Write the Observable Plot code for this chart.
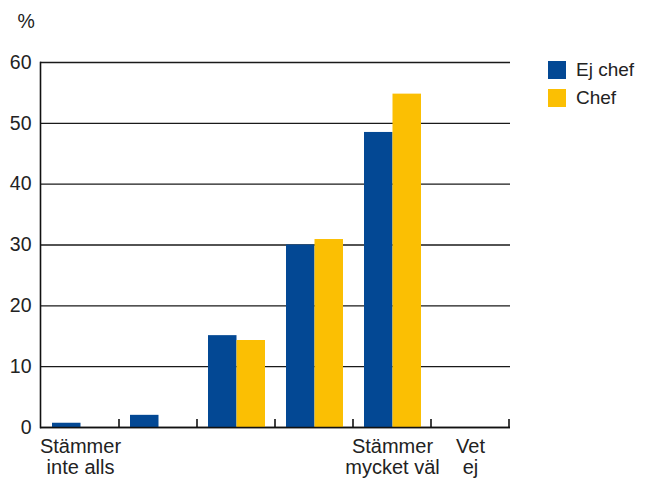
<!DOCTYPE html>
<html>
<head>
<meta charset="utf-8">
<script src="https://cdn.jsdelivr.net/npm/d3@7"></script>
<script src="https://cdn.jsdelivr.net/npm/@observablehq/plot@0.6"></script>
<style>
  body { margin: 0; background: #fff; }
  #wrap { position: relative; width: 645px; height: 483px; font-family: "Liberation Sans", Arial, sans-serif; color: #222; }
  #legend { position: absolute; left: 548px; top: 61px; }
  .item { display: flex; align-items: center; height: 18px; margin-bottom: 10px; font-size: 19px; }
  .swatch { width: 18px; height: 18px; margin-right: 10px; }
</style>
</head>
<body>
<div id="wrap"><div id="legend"></div></div>
<script>
// Answer scale positions (1 = "Stämmer inte alls" … 5 = "Stämmer mycket väl", plus "Vet ej")
const categories = ["1", "2", "3", "4", "5", "Vet ej"];
const tickLabels = ["Stämmer\ninte alls", "", "", "", "Stämmer\nmycket väl", "Vet\nej"];
const series = ["Ej chef", "Chef"];
const colors = ["#034894", "#FBBF03"];
// Share of respondents, %
const ejChef = [0.7, 2.0, 15.1, 30.0, 48.5, 0];
const chef = [0, 0, 14.3, 30.9, 54.8, 0];
const yTicks = [0, 10, 20, 30, 40, 50, 60];

const rows = categories.flatMap((c, i) => [
  {cat: c, series: series[0], value: ejChef[i]},
  {cat: c, series: series[1], value: chef[i]}
]);

const font = "Liberation Sans, Arial, sans-serif";

const chart = Plot.plot({
  width: 645,
  height: 483,
  marginLeft: 40,
  marginRight: 135,
  marginTop: 62,
  marginBottom: 56,
  style: {fontFamily: font, color: "#222", background: "#fff"},
  x: {domain: categories, padding: 0, label: null},
  y: {domain: [0, 60], label: null},
  color: {domain: series, range: colors},
  marks: [
    Plot.gridY(yTicks, {stroke: "#1a1a1a", strokeOpacity: 1, strokeWidth: 1.3}),
    Plot.barY(rows.filter(d => d.series === series[0]), {
      x: "cat", y: "value", fill: "series", insetLeft: 11, insetRight: 38.5
    }),
    Plot.barY(rows.filter(d => d.series === series[1]), {
      x: "cat", y: "value", fill: "series", insetLeft: 39.5, insetRight: 10
    }),
    Plot.ruleY([0], {stroke: "#111", strokeWidth: 1.6}),
    Plot.frame({anchor: "left", stroke: "#111", strokeWidth: 1.6}),
    Plot.axisY(yTicks, {
      tickSize: 0, tickPadding: 9, fontSize: 19.5, label: null, fill: "#222"
    }),
    Plot.axisX({
      tickSize: 0, tickPadding: 10, fontSize: 20, lineHeight: 1.08,
      tickFormat: (d, i) => tickLabels[categories.indexOf(d)], label: null, fill: "#222"
    }),
    Plot.text(["%"], {frameAnchor: "top-left", dx: -23, dy: -48, fontSize: 19.5, fill: "#222"})
  ]
});

// Short tick marks at the boundaries between answer categories on the x axis
{
  const xs = chart.scale("x");
  const ys = chart.scale("y");
  const y0 = ys.apply(0);
  const edges = categories.map(c => xs.apply(c)).concat([xs.apply(categories[categories.length - 1]) + xs.bandwidth]);
  d3.select(chart).append("g")
    .attr("stroke", "#111")
    .attr("stroke-width", 1.6)
    .selectAll("line")
    .data(edges.slice(1))
    .join("line")
    .attr("x1", d => d).attr("x2", d => d)
    .attr("y1", y0).attr("y2", y0 - 8);
}

document.getElementById("wrap").prepend(chart);

const legend = d3.select("#legend");
series.forEach((s, i) => {
  const item = legend.append("div").attr("class", "item");
  item.append("div").attr("class", "swatch").style("background", colors[i]);
  item.append("span").text(s);
});
</script>
</body>
</html>
